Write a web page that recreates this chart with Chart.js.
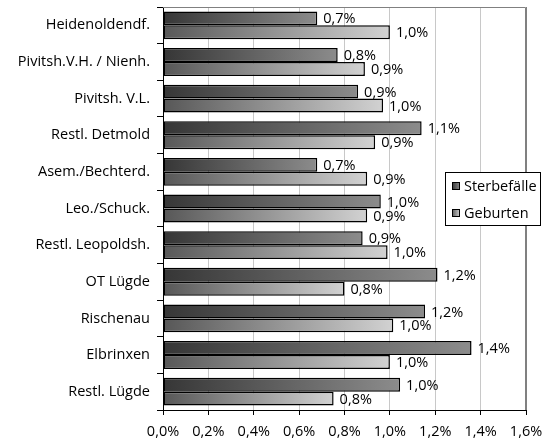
<!DOCTYPE html>
<html>
<head>
<meta charset="utf-8">
<script src="https://cdn.jsdelivr.net/npm/chart.js@4/dist/chart.umd.min.js"></script>
<style>
  html, body { margin: 0; padding: 0; background: #fff; }
  #wrap { width: 543px; height: 443px; position: relative; }
</style>
</head>
<body>
<div id="wrap"><canvas id="chart"></canvas></div>
<script>
// ── Data ────────────────────────────────────────────────────────────────────
const categories = [
  'Heidenoldendf.',
  'Pivitsh.V.H. / Nienh.',
  'Pivitsh. V.L.',
  'Restl. Detmold',
  'Asem./Bechterd.',
  'Leo./Schuck.',
  'Restl. Leopoldsh.',
  'OT Lügde',
  'Rischenau',
  'Elbrinxen',
  'Restl. Lügde',
];
const sterbefaelle = [0.68, 0.77, 0.86, 1.14, 0.68, 0.96, 0.88, 1.21, 1.155, 1.36, 1.045];
const geburten     = [1.00, 0.89, 0.97, 0.935, 0.90, 0.90, 0.99, 0.80, 1.015, 1.00, 0.752];
const seriesNames  = ['Sterbefälle', 'Geburten'];
const X_MIN = 0, X_MAX = 1.6, X_STEP = 0.2;

// ── Styling ─────────────────────────────────────────────────────────────────
const FONT_FAMILY = "'Open Sans', 'DejaVu Sans', sans-serif";
const FONT_SIZE = 14.5;
const GRADIENTS = [
  ['#363636', '#8c8c8c'],   // Sterbefälle
  ['#575757', '#d2d2d2'],   // Geburten
];

const fmtPct = (v) => v.toFixed(1).replace('.', ',') + '%';

// gradient stretched over each bar's own length
function barGradient(stops) {
  return (ctx) => {
    const chart = ctx.chart;
    if (!chart.chartArea || ctx.raw == null) return stops[0];
    const xs = chart.scales.x;
    const x0 = xs.getPixelForValue(0);
    const x1 = xs.getPixelForValue(ctx.raw);
    const g = chart.ctx.createLinearGradient(x0, 0, Math.max(x1, x0 + 1), 0);
    g.addColorStop(0, stops[0]);
    g.addColorStop(1, stops[1]);
    return g;
  };
}

// grey frame on top and right of the plot area
const plotFrame = {
  id: 'plotFrame',
  beforeDatasetsDraw(chart) {
    const { ctx, chartArea: a } = chart;
    ctx.save();
    ctx.strokeStyle = '#808080';
    ctx.lineWidth = 1;
    ctx.beginPath();
    ctx.moveTo(a.left, a.top + 0.5);
    ctx.lineTo(a.right - 0.5, a.top + 0.5);
    ctx.lineTo(a.right - 0.5, a.bottom);
    ctx.stroke();
    ctx.restore();
  },
};

// value labels at the end of each bar
const valueLabels = {
  id: 'valueLabels',
  afterDatasetsDraw(chart) {
    const { ctx } = chart;
    ctx.save();
    ctx.font = `${FONT_SIZE}px ${FONT_FAMILY}`;
    ctx.fillStyle = '#000';
    ctx.textAlign = 'left';
    ctx.textBaseline = 'middle';
    chart.data.datasets.forEach((ds, di) => {
      chart.getDatasetMeta(di).data.forEach((el, i) => {
        ctx.fillText(fmtPct(ds.data[i]), el.x + 6, el.y + 1);
      });
    });
    ctx.restore();
  },
};

// boxed legend sitting inside the plot area on the right
const boxLegend = {
  id: 'boxLegend',
  afterDraw(chart) {
    const { ctx, chartArea: a } = chart;
    const x = a.right - 81, y = a.top + 165, w = 96, h = 54;
    ctx.save();
    ctx.fillStyle = '#fff';
    ctx.fillRect(x, y, w, h);
    ctx.strokeStyle = '#000';
    ctx.lineWidth = 1;
    ctx.strokeRect(x + 0.5, y + 0.5, w - 1, h - 1);
    ctx.font = `${FONT_SIZE}px ${FONT_FAMILY}`;
    ctx.textBaseline = 'middle';
    seriesNames.forEach((name, i) => {
      const cy = y + 14 + i * 27;
      const sx = x + 7, sy = cy - 4, s = 8;
      const g = ctx.createLinearGradient(sx, 0, sx + s, 0);
      g.addColorStop(0, GRADIENTS[i][0]);
      g.addColorStop(1, GRADIENTS[i][1]);
      ctx.fillStyle = g;
      ctx.fillRect(sx, sy, s, s);
      ctx.strokeStyle = '#000';
      ctx.strokeRect(sx + 0.5, sy + 0.5, s - 1, s - 1);
      ctx.fillStyle = '#000';
      ctx.fillText(name, sx + s + 4, cy + 1);
    });
    ctx.restore();
  },
};

new Chart(document.getElementById('chart'), {
  type: 'bar',
  data: {
    labels: categories,
    datasets: [
      {
        label: seriesNames[0],
        data: sterbefaelle,
        backgroundColor: barGradient(GRADIENTS[0]),
        borderColor: '#000',
        borderWidth: 1.5,
        borderSkipped: false,
      },
      {
        label: seriesNames[1],
        data: geburten,
        backgroundColor: barGradient(GRADIENTS[1]),
        borderColor: '#000',
        borderWidth: 1.5,
        borderSkipped: false,
      },
    ],
  },
  options: {
    indexAxis: 'y',
    responsive: true,
    maintainAspectRatio: false,
    animation: false,
    datasets: { bar: { categoryPercentage: 0.76, barPercentage: 1.0 } },
    layout: { padding: { top: 7, right: 17, left: 0, bottom: 0 } },
    plugins: { legend: { display: false }, tooltip: { enabled: false } },
    scales: {
      x: {
        min: X_MIN,
        max: X_MAX,
        grid: {
          color: (c) => (c.tick && Math.abs(c.tick.value - X_MAX) < 1e-6) ? '#808080' : '#c8c8c8',
          tickColor: '#000',
          tickLength: 5,
        },
        border: { color: '#000', width: 1 },
        ticks: {
          stepSize: X_STEP,
          color: '#000',
          padding: 8,
          font: { family: FONT_FAMILY, size: FONT_SIZE },
          callback: (v) => fmtPct(v),
        },
        // fixed axis band, no extra room for overhanging labels
        afterFit: (s) => { s.height = 33; s.paddingLeft = 0; s.paddingRight = 0; },
      },
      y: {
        grid: { drawOnChartArea: false, color: '#000', tickLength: 6, offset: true },
        border: { color: '#000', width: 1 },
        ticks: {
          color: '#000',
          padding: 7,
          font: { family: FONT_FAMILY, size: FONT_SIZE },
        },
        afterFit: (s) => { s.width = 163; s.paddingTop = 0; s.paddingBottom = 0; },
      },
    },
  },
  plugins: [plotFrame, valueLabels, boxLegend],
});
</script>
</body>
</html>
